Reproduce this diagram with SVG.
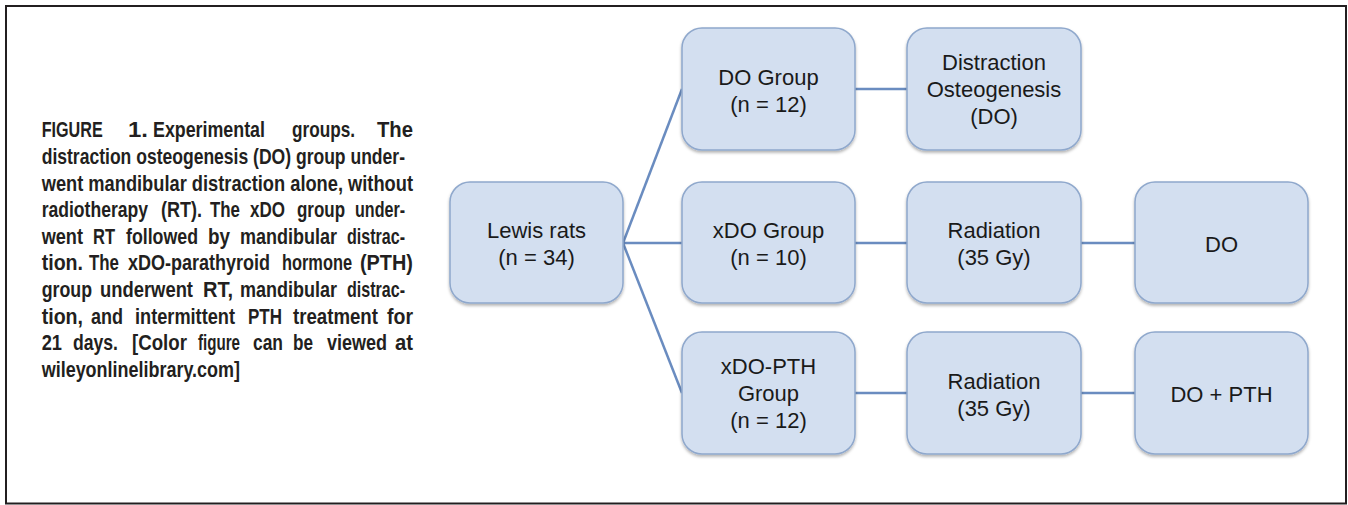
<svg xmlns="http://www.w3.org/2000/svg" width="1348" height="505" viewBox="0 0 1348 505">
<style>
.cap{font-family:"Liberation Sans",Arial,sans-serif;font-size:22px;font-weight:bold;fill:#231f20}
.box{fill:#d3dff0;stroke:#8fa8cc;stroke-width:1.5;filter:url(#sh)}
.lbl{font-family:"Liberation Sans",Arial,sans-serif;font-size:22px;fill:#1a1a1a;text-anchor:middle}
.con{stroke:#6a8cc0;stroke-width:2.5;fill:none}
</style>
<defs>
<filter id="sh" x="-10%" y="-10%" width="120%" height="125%">
<feDropShadow dx="0" dy="2" stdDeviation="1.5" flood-color="#000" flood-opacity="0.3"/>
</filter>
</defs>
<rect x="0" y="0" width="1348" height="505" fill="#fff"/>
<rect x="6" y="6" width="1340" height="497.5" fill="none" stroke="#231f20" stroke-width="2"/>
<g id="caption" class="cap" transform="scale(0.8,1)">
<text x="52.125" y="137.5" textLength="76.25" lengthAdjust="spacingAndGlyphs">FIGURE</text>
<text x="160" y="137.5" textLength="25" lengthAdjust="spacingAndGlyphs">1.</text>
<text x="191.25" y="137.5" textLength="140" lengthAdjust="spacingAndGlyphs">Experimental</text>
<text x="365" y="137.5" textLength="78.75" lengthAdjust="spacingAndGlyphs">groups.</text>
<text x="471.25" y="137.5" textLength="45" lengthAdjust="spacingAndGlyphs">The</text>
<text x="52.125" y="164.1" textLength="454.125" lengthAdjust="spacingAndGlyphs">distraction osteogenesis (DO) group under-</text>
<text x="52.125" y="190.7" textLength="464.125" lengthAdjust="spacingAndGlyphs">went mandibular distraction alone, without</text>
<text x="52.125" y="217.3" textLength="132.875" lengthAdjust="spacingAndGlyphs">radiotherapy</text>
<text x="201.25" y="217.3" textLength="51.25" lengthAdjust="spacingAndGlyphs">(RT).</text>
<text x="262.5" y="217.3" textLength="37.5" lengthAdjust="spacingAndGlyphs">The</text>
<text x="312.5" y="217.3" textLength="43.75" lengthAdjust="spacingAndGlyphs">xDO</text>
<text x="371.25" y="217.3" textLength="60" lengthAdjust="spacingAndGlyphs">group</text>
<text x="443.75" y="217.3" textLength="62.5" lengthAdjust="spacingAndGlyphs">under-</text>
<text x="52.125" y="243.9" textLength="51.625" lengthAdjust="spacingAndGlyphs">went</text>
<text x="116.25" y="243.9" textLength="27.5" lengthAdjust="spacingAndGlyphs">RT</text>
<text x="157.5" y="243.9" textLength="90" lengthAdjust="spacingAndGlyphs">followed</text>
<text x="260" y="243.9" textLength="27.5" lengthAdjust="spacingAndGlyphs">by</text>
<text x="300" y="243.9" textLength="121.25" lengthAdjust="spacingAndGlyphs">mandibular</text>
<text x="433.75" y="243.9" textLength="72.5" lengthAdjust="spacingAndGlyphs">distrac-</text>
<text x="52.125" y="270.5" textLength="51.625" lengthAdjust="spacingAndGlyphs">tion.</text>
<text x="111.25" y="270.5" textLength="37.5" lengthAdjust="spacingAndGlyphs">The</text>
<text x="160" y="270.5" textLength="177.5" lengthAdjust="spacingAndGlyphs">xDO-parathyroid</text>
<text x="352.5" y="270.5" textLength="87.5" lengthAdjust="spacingAndGlyphs">hormone</text>
<text x="450" y="270.5" textLength="66.25" lengthAdjust="spacingAndGlyphs">(PTH)</text>
<text x="52.125" y="297.1" textLength="62.875" lengthAdjust="spacingAndGlyphs">group</text>
<text x="125" y="297.1" textLength="116.25" lengthAdjust="spacingAndGlyphs">underwent</text>
<text x="253.75" y="297.1" textLength="37.5" lengthAdjust="spacingAndGlyphs">RT,</text>
<text x="300" y="297.1" textLength="121.25" lengthAdjust="spacingAndGlyphs">mandibular</text>
<text x="433.75" y="297.1" textLength="72.5" lengthAdjust="spacingAndGlyphs">distrac-</text>
<text x="52.125" y="323.7" textLength="51.625" lengthAdjust="spacingAndGlyphs">tion,</text>
<text x="113.75" y="323.7" textLength="40" lengthAdjust="spacingAndGlyphs">and</text>
<text x="168.75" y="323.7" textLength="125" lengthAdjust="spacingAndGlyphs">intermittent</text>
<text x="310" y="323.7" textLength="42.5" lengthAdjust="spacingAndGlyphs">PTH</text>
<text x="366.25" y="323.7" textLength="106.25" lengthAdjust="spacingAndGlyphs">treatment</text>
<text x="483.75" y="323.7" textLength="32.5" lengthAdjust="spacingAndGlyphs">for</text>
<text x="52.125" y="350.3" textLength="25.375" lengthAdjust="spacingAndGlyphs">21</text>
<text x="91.25" y="350.3" textLength="56.25" lengthAdjust="spacingAndGlyphs">days.</text>
<text x="165" y="350.3" textLength="68.75" lengthAdjust="spacingAndGlyphs">[Color</text>
<text x="247.5" y="350.3" textLength="52.5" lengthAdjust="spacingAndGlyphs">figure</text>
<text x="316.25" y="350.3" textLength="37.5" lengthAdjust="spacingAndGlyphs">can</text>
<text x="366.25" y="350.3" textLength="25" lengthAdjust="spacingAndGlyphs">be</text>
<text x="408.75" y="350.3" textLength="75" lengthAdjust="spacingAndGlyphs">viewed</text>
<text x="493.75" y="350.3" textLength="22.5" lengthAdjust="spacingAndGlyphs">at</text>
<text x="52.125" y="376.9" textLength="247.875" lengthAdjust="spacingAndGlyphs">wileyonlinelibrary.com]</text>
</g>
<g id="connectors" class="con">
<line x1="623" y1="243" x2="682" y2="89"/>
<line x1="623" y1="243" x2="682" y2="243"/>
<line x1="623" y1="243" x2="682" y2="393"/>
<line x1="855" y1="89" x2="907" y2="89"/>
<line x1="855" y1="243" x2="907" y2="243"/>
<line x1="1081" y1="243" x2="1135" y2="243"/>
<line x1="855" y1="393" x2="907" y2="393"/>
<line x1="1081" y1="393" x2="1135" y2="393"/>
</g>
<g id="lewis">
<rect class="box" x="450" y="182" width="173" height="121" rx="20"/>
<text class="lbl"><tspan x="536.5" y="238">Lewis rats</tspan><tspan x="536.5" y="265">(n = 34)</tspan></text>
</g>
<g id="do-group">
<rect class="box" x="682" y="28" width="173" height="122" rx="20"/>
<text class="lbl"><tspan x="768.5" y="84.5">DO Group</tspan><tspan x="768.5" y="111.5">(n = 12)</tspan></text>
</g>
<g id="do-step">
<rect class="box" x="907" y="28" width="174" height="122" rx="20"/>
<text class="lbl"><tspan x="994" y="70">Distraction</tspan><tspan x="994" y="97">Osteogenesis</tspan><tspan x="994" y="124">(DO)</tspan></text>
</g>
<g id="xdo-group">
<rect class="box" x="682" y="182" width="173" height="121" rx="20"/>
<text class="lbl"><tspan x="768.5" y="238">xDO Group</tspan><tspan x="768.5" y="265">(n = 10)</tspan></text>
</g>
<g id="xdo-radiation">
<rect class="box" x="907" y="182" width="174" height="121" rx="20"/>
<text class="lbl"><tspan x="994" y="238">Radiation</tspan><tspan x="994" y="265">(35 Gy)</tspan></text>
</g>
<g id="xdo-do">
<rect class="box" x="1135" y="182" width="173" height="121" rx="20"/>
<text class="lbl" x="1221.5" y="252">DO</text>
</g>
<g id="xdopth-group">
<rect class="box" x="682" y="332" width="173" height="122" rx="20"/>
<text class="lbl"><tspan x="768.5" y="374">xDO-PTH</tspan><tspan x="768.5" y="401">Group</tspan><tspan x="768.5" y="428">(n = 12)</tspan></text>
</g>
<g id="xdopth-radiation">
<rect class="box" x="907" y="332" width="174" height="122" rx="20"/>
<text class="lbl"><tspan x="994" y="388.5">Radiation</tspan><tspan x="994" y="415.5">(35 Gy)</tspan></text>
</g>
<g id="xdopth-dopth">
<rect class="box" x="1135" y="332" width="173" height="122" rx="20"/>
<text class="lbl" x="1221.5" y="402">DO + PTH</text>
</g>
</svg>
